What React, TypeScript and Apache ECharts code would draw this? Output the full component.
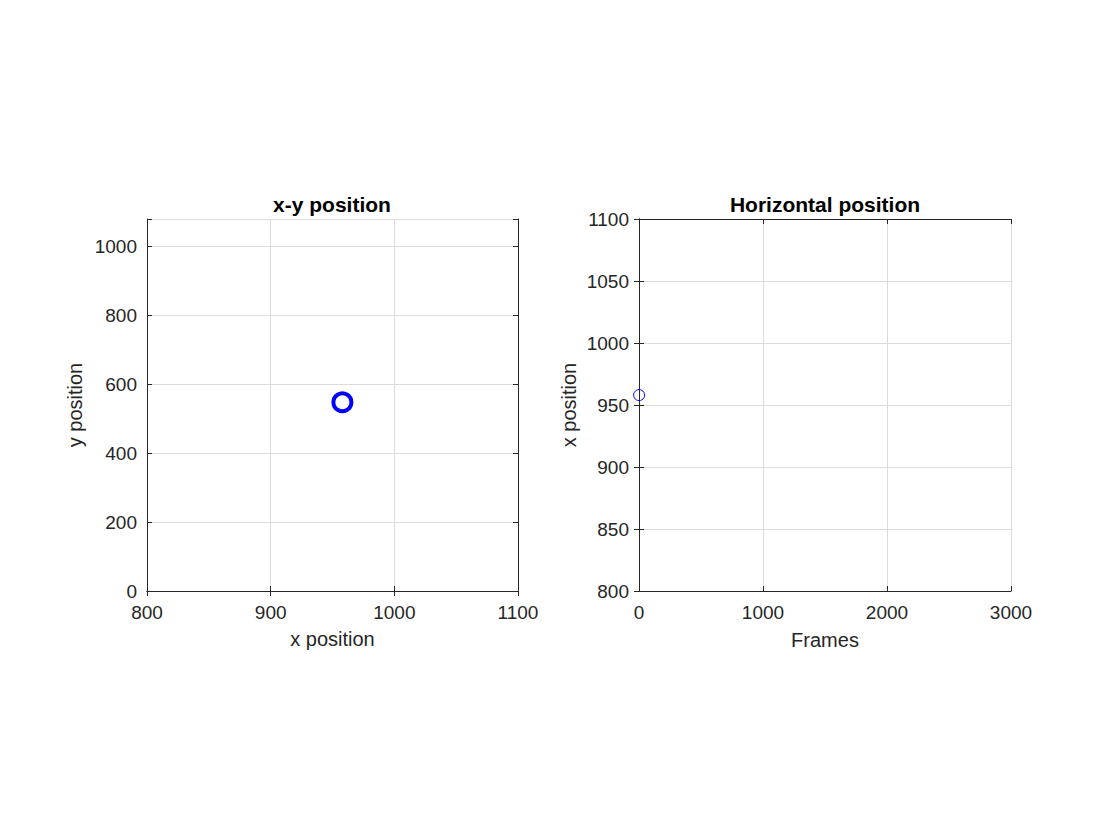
import React, { useEffect, useRef } from "react";
import * as echarts from "echarts";

const xyX = [958];
const xyY = [548];
const frames = [1];
const horizX = [958];

const leftYTicks = [0, 200, 400, 600, 800, 1000];

const FONT = "'Liberation Sans', Arial, Helvetica, sans-serif";
const TXT = "#262626";

function boxAxis(common: any, position: string, gridIndex: number) {
  return {
    ...common,
    gridIndex,
    position,
    axisLine: { show: true, lineStyle: { color: TXT, width: 1 } },
    axisTick: { show: true, inside: true, length: 5, lineStyle: { color: TXT } },
    axisLabel: { show: false },
    splitLine: { show: false },
    name: "",
  };
}

export default function App() {
  const ref = useRef<HTMLDivElement>(null);
  useEffect(() => {
    const chart = echarts.init(ref.current!, null, { renderer: "svg" });
    const labelStyle = { color: TXT, fontSize: 19, fontFamily: FONT };
    const nameStyle = { color: TXT, fontSize: 20, fontFamily: FONT };
    const splitLine = { show: true, lineStyle: { color: "#dcdcdc", width: 1 } };
    const tick = { show: true, inside: true, length: 5, lineStyle: { color: TXT } };
    const line = { show: true, lineStyle: { color: TXT, width: 1 } };
    const plain = (v: number) => String(v);

    const lx = { type: "value", min: 800, max: 1100, interval: 100 };
    const ly = { type: "value", min: 0, max: 1080, interval: 200 };
    const rx = { type: "value", min: 0, max: 3000, interval: 1000 };
    const ry = { type: "value", min: 800, max: 1100, interval: 50 };

    chart.setOption({
      animation: false,
      backgroundColor: "#ffffff",
      graphic: [
        {
          type: "text",
          x: 332,
          y: 204,
          style: {
            text: "x-y position",
            align: "center",
            verticalAlign: "middle",
            fill: "#000",
            fontSize: 21,
            fontWeight: "bold",
            fontFamily: FONT,
          },
        },
        {
          type: "text",
          x: 825,
          y: 204,
          style: {
            text: "Horizontal position",
            align: "center",
            verticalAlign: "middle",
            fill: "#000",
            fontSize: 21,
            fontWeight: "bold",
            fontFamily: FONT,
          },
        },
      ],
      grid: [
        { left: 147, top: 219, width: 371, height: 372 },
        { left: 639, top: 219, width: 372, height: 372 },
      ],
      xAxis: [
        {
          ...lx,
          gridIndex: 0,
          position: "bottom",
          name: "x position",
          nameLocation: "middle",
          nameGap: 38,
          nameTextStyle: nameStyle,
          axisLine: line,
          axisTick: tick,
          axisLabel: { ...labelStyle, margin: 12, formatter: plain },
          splitLine,
        },
        boxAxis(lx, "top", 0),
        {
          ...rx,
          gridIndex: 1,
          position: "bottom",
          name: "Frames",
          nameLocation: "middle",
          nameGap: 39,
          nameTextStyle: nameStyle,
          axisLine: line,
          axisTick: tick,
          axisLabel: { ...labelStyle, margin: 12, formatter: plain },
          splitLine,
        },
        boxAxis(rx, "top", 1),
      ],
      yAxis: [
        {
          ...ly,
          gridIndex: 0,
          position: "left",
          name: "y position",
          nameLocation: "middle",
          nameGap: 62,
          nameTextStyle: nameStyle,
          axisLine: line,
          axisTick: tick,
          axisLabel: {
            ...labelStyle,
            margin: 10,
            formatter: (v: number) => (leftYTicks.includes(v) ? String(v) : ""),
          },
          splitLine,
        },
        boxAxis(ly, "right", 0),
        {
          ...ry,
          gridIndex: 1,
          position: "left",
          name: "x position",
          nameLocation: "middle",
          nameGap: 60,
          nameTextStyle: nameStyle,
          axisLine: line,
          axisTick: tick,
          axisLabel: { ...labelStyle, margin: 10, formatter: plain },
          splitLine,
        },
        boxAxis(ry, "right", 1),
      ],
      series: [
        {
          type: "scatter",
          xAxisIndex: 0,
          yAxisIndex: 0,
          data: xyX.map((x, i) => [x, xyY[i]]),
          symbol: "circle",
          symbolSize: 18,
          itemStyle: { color: "transparent", borderColor: "#0000ff", borderWidth: 4, opacity: 1 },
          silent: true,
        },
        {
          type: "scatter",
          xAxisIndex: 2,
          yAxisIndex: 2,
          data: frames.map((f, i) => [f, horizX[i]]),
          symbol: "circle",
          symbolSize: 11,
          itemStyle: { color: "transparent", borderColor: "#0000ff", borderWidth: 1, opacity: 1 },
          silent: true,
        },
      ],
    });
    return () => chart.dispose();
  }, []);
  return (
    <div
      ref={ref}
      style={{ position: "fixed", left: 0, top: 0, width: 1120, height: 840, background: "#fff" }}
    />
  );
}
